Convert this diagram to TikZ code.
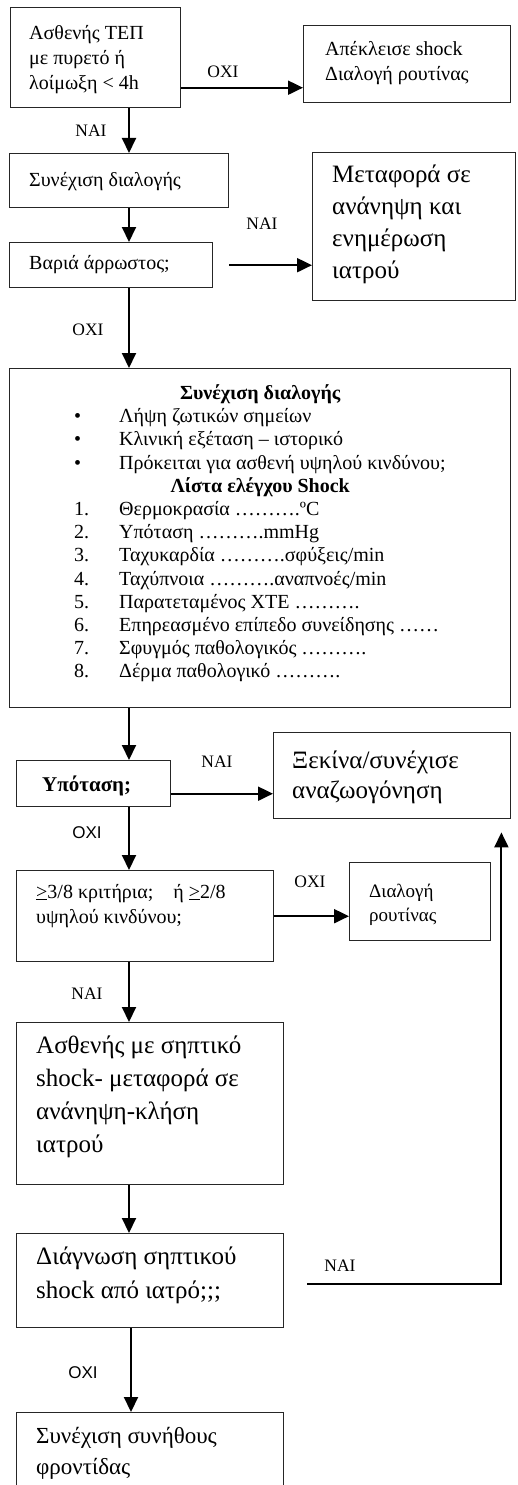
\documentclass[tikz,border=0pt]{standalone}
\usepackage{fontspec}
\setmainfont{Liberation Serif}
\newfontfamily\arialf{Liberation Sans}
\usetikzlibrary{arrows.meta,calc}
\newcommand{\ST}{\strut}
\newcommand{\fsz}[2]{\fontsize{#1}{#2}\selectfont\lineskiplimit=-100pt\relax}
\begin{document}
\begin{tikzpicture}[x=1pt,y=-1pt,
 box/.style={draw=black!85, line width=1.4pt, inner sep=0pt, anchor=north west},
 txt/.style={inner sep=0pt, anchor=north west, align=left},
 arr/.style={line width=2pt, -{Triangle[length=15pt,width=14pt]}},
 lab/.style={inner sep=0pt, font=\fsz{17.5}{19}},
 labs/.style={inner sep=0pt, font=\arialf\fsz{17}{19}}]
\useasboundingbox (0,0) rectangle (517,1485);
\clip (0,0) rectangle (517,1485);
% boxes
\node[box, minimum width=170pt, minimum height=100pt] (b1) at (10,7) {};
\node[box, minimum width=207pt, minimum height=77pt] (b2) at (303,25) {};
\node[box, minimum width=219pt, minimum height=54pt] (b3) at (9,153) {};
\node[box, minimum width=203pt, minimum height=45pt] (b4) at (9,242) {};
\node[box, minimum width=203pt, minimum height=148pt] (b5) at (312,152) {};
\node[box, minimum width=501pt, minimum height=339pt] (b6) at (9,368) {};
\node[box, minimum width=154pt, minimum height=46pt] (b7) at (16,760) {};
\node[box, minimum width=237pt, minimum height=86pt] (b8) at (273,732) {};
\node[box, minimum width=257pt, minimum height=91pt] (b9) at (16,870) {};
\node[box, minimum width=141pt, minimum height=78pt] (b10) at (349,862) {};
\node[box, minimum width=267pt, minimum height=162pt] (b11) at (16,1022) {};
\node[box, minimum width=267pt, minimum height=94pt] (b12) at (16,1233) {};
\node[box, minimum width=267pt, minimum height=90pt] (b13) at (16,1412) {};
% texts
\node[txt, font=\fsz{20}{25}] (t1) at (29,22) {\ST Ασθενής ΤΕΠ\\ \ST με πυρετό ή\\ \ST λοίμωξη < 4h};
\node[txt, font=\fsz{20}{25}] (t2) at (325,37.5) {\ST Απέκλεισε shock\\ \ST Διαλογή ρουτίνας};
\node[txt, font=\fsz{20}{25}] (t3) at (29,169) {\ST Συνέχιση διαλογής};
\node[txt, font=\fsz{20}{25}] (t4) at (29,252) {\ST Βαριά άρρωστος;};
\node[txt, font=\fsz{25}{32}] (t5) at (332,160) {\ST Μεταφορά σε\\ \ST ανάνηψη και\\ \ST ενημέρωση\\ \ST ιατρού};
\node[txt, font=\fsz{20}{23.2}] (t6) at (74,383) {%
\ST\hspace*{186pt}\makebox[0pt][c]{\bfseries Συνέχιση διαλογής}\\
\ST\makebox[45pt][l]{•}Λήψη ζωτικών σημείων\\
\ST\makebox[45pt][l]{•}Κλινική εξέταση – ιστορικό\\
\ST\makebox[45pt][l]{•}Πρόκειται για ασθενή υψηλού κινδύνου;\\
\ST\hspace*{186pt}\makebox[0pt][c]{\bfseries Λίστα ελέγχου Shock}\\
\ST\makebox[45pt][l]{1.}Θερμοκρασία ……….ºC\\
\ST\makebox[45pt][l]{2.}Υπόταση ……….mmHg\\
\ST\makebox[45pt][l]{3.}Ταχυκαρδία ……….σφύξεις/min\\
\ST\makebox[45pt][l]{4.}Ταχύπνοια ……….αναπνοές/min\\
\ST\makebox[45pt][l]{5.}Παρατεταμένος ΧΤΕ ……….\\
\ST\makebox[45pt][l]{6.}Επηρεασμένο επίπεδο συνείδησης ……\\
\ST\makebox[45pt][l]{7.}Σφυγμός παθολογικός ……….\\
\ST\makebox[45pt][l]{8.}Δέρμα παθολογικό ……….};
\node[txt, font=\bfseries\fsz{21}{25}] (t7) at (42,773.5) {\ST Υπόταση;};
\node[txt, font=\fsz{25}{30}] (t8) at (292,747) {\ST Ξεκίνα/συνέχισε\\ \ST αναζωογόνηση};
\node[txt, font=\fsz{20}{25}] (t9) at (36,880.5) {\ST\underline{>}3/8 κριτήρια;\quad ή \underline{>}2/8\\ \ST υψηλού κινδύνου;};
\node[txt, font=\fsz{19}{24}] (t10) at (369,880.2) {\ST Διαλογή\\ \ST ρουτίνας};
\node[txt, font=\fsz{25}{33}] (t11) at (36,1029.9) {\ST Ασθενής με σηπτικό\\ \ST shock- μεταφορά σε\\ \ST ανάνηψη-κλήση\\ \ST ιατρού};
\node[txt, font=\fsz{25}{34}] (t12) at (36,1240.2) {\ST Διάγνωση σηπτικού\\ \ST shock από ιατρό;;;};
\node[txt, font=\fsz{23}{31}] (t13) at (36,1421.3) {\ST Συνέχιση συνήθους\\ \ST φροντίδας};
% connectors
\coordinate (sp) at (129,0);
\coordinate (sp2) at (131,0);
\draw[arr] ([yshift=-30pt]b1.east) -- ([yshift=-30pt]b1.east -| b2.west);
\draw[arr] (b1.south -| sp) -- (b3.north -| sp);
\draw[arr] (b3.south -| sp) -- (b4.north -| sp);
\draw[arr] ([xshift=16pt]b4.east) -- (b4.east -| b5.west);
\draw[arr] (b4.south -| sp) -- (b6.north -| sp);
\draw[arr] (b6.south -| sp) -- (b7.north -| sp);
\draw[arr] ([yshift=-10pt]b7.east) -- ([yshift=-10pt]b7.east -| b8.west);
\draw[arr] (b7.south -| sp) -- (b9.north -| sp);
\draw[arr] (b9.east) -- (b9.east -| b10.west);
\draw[arr] (b9.south -| sp) -- (b11.north -| sp);
\draw[arr] (b11.south -| sp) -- (b12.north -| sp);
\draw[arr] ([xshift=23pt,yshift=-3pt]b12.east) -| ([xshift=-10pt,yshift=-13pt]b8.south east);
\draw[arr] (b12.south -| sp2) -- (b13.north -| sp2);
% labels
\node[lab] (l1) at (223,72) {ΟΧΙ};
\node[lab] (l2) at (91,131) {ΝΑΙ};
\node[lab] (l3) at (262,224) {ΝΑΙ};
\node[lab] (l4) at (88,330) {ΟΧΙ};
\node[lab] (l5) at (217,762) {ΝΑΙ};
\node[labs] (l6) at (87,833) {ΟΧΙ};
\node[lab] (l7) at (310,882) {ΟΧΙ};
\node[lab] (l8) at (87,994) {ΝΑΙ};
\node[lab] (l9) at (340,1266) {ΝΑΙ};
\node[labs] (l10) at (83,1373) {ΟΧΙ};
\end{tikzpicture}
\end{document}
